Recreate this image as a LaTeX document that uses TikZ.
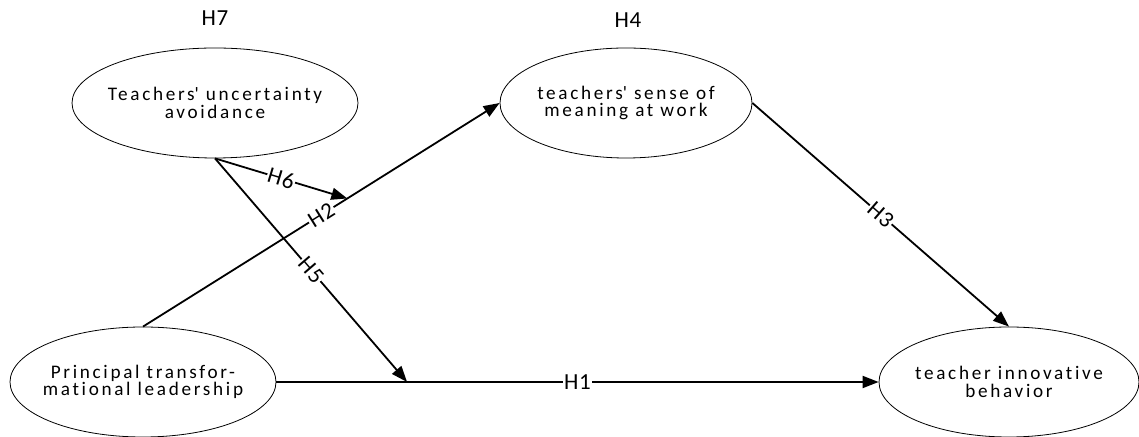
\documentclass[tikz,border=0pt]{standalone}
\usepackage{fontspec}
\setmainfont{Carlito}[LetterSpace=14, Ligatures={NoCommon, NoRare, NoContextual}]
\usetikzlibrary{positioning, arrows.meta, shapes.geometric, calc}

\begin{document}
\begin{tikzpicture}[
    x=0.5pt, y=-0.5pt,
    construct/.style={
        draw,
        ellipse,
        thin,
        align=center,
        inner xsep=-25pt,
        inner ysep=-5pt,
        minimum height=55pt,
        font=\fontsize{9.6pt}{8.8pt}\selectfont
    },
    hyplabel/.style={font=\fontsize{11.5pt}{12pt}\selectfont\addfontfeature{LetterSpace=3}},
    arrow/.style={-{Triangle[length=8pt, width=6pt]}, line width=0.9pt},
    edgelabel/.style={fill=white, inner sep=0.5pt,
        font=\fontsize{11.5pt}{12pt}\selectfont\addfontfeature{LetterSpace=3}}
]
\useasboundingbox (0,0) rectangle (1139,437);

% Constructs
\node[construct, minimum width=143pt] (tua) at (215,103) {Teachers\textquotesingle\ uncertainty\\avoidance};
\node[construct, minimum width=126pt] (sm) at (626,103) {teachers\textquotesingle\ sense of\\meaning at work};
\node[construct, minimum width=133pt] (ptl) at (143,382) {Principal transfor-\\mational leadership};
\node[construct, minimum width=130pt] (tib) at (1009,382) {teacher innovative\\behavior};

% Moderator labels
\node[hyplabel] (h7) at (215,18) {H7};
\node[hyplabel] (h4) at (628,20) {H4};

% Points where moderation arrows meet
\coordinate (onh1) at ($(ptl.east)!0.217!(tib.west)$);
\coordinate (onh2) at ($(ptl.north)!0.573!(sm.west)$);

% Arrows
\draw[arrow] (ptl.east) -- node[edgelabel] {H1} (tib.west);
\draw[arrow] (ptl.north) -- node[edgelabel, sloped] {H2} (sm.west);
\draw[arrow] (sm.east) -- node[edgelabel, sloped] {H3} (tib.north);
\draw[arrow] (tua.south) -- node[edgelabel, sloped] {H5} (onh1);
\draw[arrow] (tua.south) -- node[edgelabel, sloped] {H6} (onh2);

\end{tikzpicture}
\end{document}
